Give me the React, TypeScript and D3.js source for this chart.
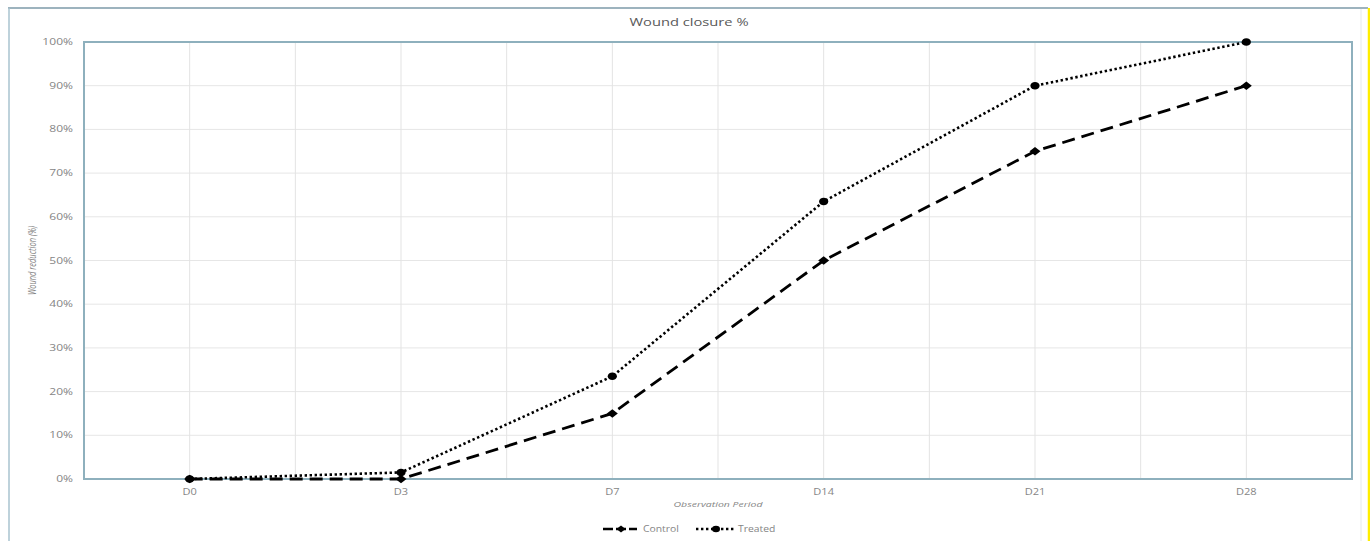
import React from "react";
import * as d3 from "d3";

const categories = ["D0", "D3", "D7", "D14", "D21", "D28"];
const controlValues = [0, 0, 15, 50, 75, 90];
const treatedValues = [0, 1.5, 23.5, 63.5, 90, 100];
const yTicks = [0, 10, 20, 30, 40, 50, 60, 70, 80, 90, 100];
const seriesNames = ["Control", "Treated"];

const W = 1370;
const H = 541;
const plot = { left: 84, top: 42, right: 1352, bottom: 479 };
const font = "'Open Sans', 'Liberation Sans', sans-serif";
const textColor = "#858585";

type TProps = {
  x: number;
  y: number;
  sx?: number;
  sy?: number;
  size: number;
  anchor?: "start" | "middle" | "end";
  italic?: boolean;
  fill?: string;
  rotate?: number;
  children: React.ReactNode;
};

function T({ x, y, sx = 1.35, sy = 1, size, anchor = "start", italic, fill = textColor, rotate = 0, children }: TProps) {
  return (
    <text
      transform={`translate(${x},${y}) rotate(${rotate}) scale(${sx},${sy})`}
      textAnchor={anchor}
      fontFamily={font}
      fontSize={size}
      fontStyle={italic ? "italic" : "normal"}
      fill={fill}
    >
      {children}
    </text>
  );
}

const diamondPath = (w: number, h: number) => `M0,${-h}L${w},0L0,${h}L${-w},0Z`;

export default function App() {
  const x = d3
    .scaleBand<string>()
    .domain(categories)
    .range([plot.left, plot.right])
    .padding(0);
  const y = d3.scaleLinear().domain([0, 100]).range([plot.bottom, plot.top]);
  const cx = (c: string) => (x(c) ?? 0) + x.bandwidth() / 2;

  const line = d3
    .line<number>()
    .x((_, i) => cx(categories[i]))
    .y((d) => y(d));

  const vGrid: number[] = [];
  categories.forEach((c) => {
    vGrid.push(x(c) ?? 0);
    vGrid.push(cx(c));
  });

  const diamond = diamondPath(5.5, 4.2);

  return (
    <svg
      width={W}
      height={H}
      style={{ position: "absolute", left: 0, top: 0, display: "block" }}
    >
      <rect x={0} y={0} width={W} height={H} fill="#ffffff" />
      {/* outer chart frame */}
      <line x1={8} y1={8} x2={1368} y2={8} stroke="#7d9aa8" strokeWidth={1.5} />
      <line x1={9} y1={8} x2={9} y2={H} stroke="#a9c3cf" strokeWidth={1.5} />
      <line x1={1361} y1={9} x2={1361} y2={H} stroke="#e4e9ec" strokeWidth={1} />
      <line x1={1369} y1={8} x2={1369} y2={H} stroke="#ffee00" strokeWidth={2.5} />

      {/* title */}
      <T x={689} y={26} size={11.5} sx={1.28} anchor="middle" fill="#595959">
        Wound closure %
      </T>

      {/* gridlines */}
      {yTicks.map((t) => (
        <line
          key={"h" + t}
          x1={plot.left}
          x2={plot.right}
          y1={y(t)}
          y2={y(t)}
          stroke="#e6e6e6"
          strokeWidth={1}
        />
      ))}
      {vGrid.map((gx, i) => (
        <line
          key={"v" + i}
          x1={gx}
          x2={gx}
          y1={plot.top}
          y2={plot.bottom}
          stroke="#e3e3e3"
          strokeWidth={1}
        />
      ))}

      {/* plot border */}
      <rect
        x={plot.left}
        y={plot.top}
        width={plot.right - plot.left}
        height={plot.bottom - plot.top}
        fill="none"
        stroke="#8eb0bd"
        strokeWidth={2}
      />

      {/* y tick labels */}
      {yTicks.map((t) => (
        <T key={"yl" + t} x={73} y={y(t) + 3} size={8.5} sx={1.42} anchor="end">
          {t + "%"}
        </T>
      ))}

      {/* x tick labels */}
      {categories.map((c) => (
        <T key={"xl" + c} x={cx(c)} y={495} size={8.5} sx={1.3} anchor="middle">
          {c}
        </T>
      ))}

      {/* axis titles */}
      <T x={(plot.left + plot.right) / 2} y={507} size={7.5} sx={1.4} anchor="middle" italic>
        Observation Period
      </T>
      <T x={36} y={(plot.top + plot.bottom) / 2} size={7.5} sx={1} sy={1.35} rotate={-90} anchor="middle" italic>
        Wound reduction (%)
      </T>

      {/* series */}
      <path
        d={line(controlValues) ?? ""}
        fill="none"
        stroke="#000"
        strokeWidth={2.8}
        strokeDasharray="13,7"
      />
      <path
        d={line(treatedValues) ?? ""}
        fill="none"
        stroke="#000"
        strokeWidth={2.6}
        strokeDasharray="2.4,2.6"
      />
      {controlValues.map((v, i) => (
        <path
          key={"cm" + i}
          d={diamond}
          transform={`translate(${cx(categories[i])},${y(v)})`}
          fill="#000"
        />
      ))}
      {treatedValues.map((v, i) => (
        <ellipse
          key={"tm" + i}
          cx={cx(categories[i])}
          cy={y(v)}
          rx={4.6}
          ry={3.8}
          fill="#000"
        />
      ))}

      {/* legend */}
      <g>
        <line x1={603} x2={637} y1={529} y2={529} stroke="#000" strokeWidth={2.6} strokeDasharray="10,3" />
        <path d={diamondPath(4.5, 3.4)} transform="translate(621,529)" fill="#000" />
        <T x={643} y={532} size={8.5} sx={1.22}>
          {seriesNames[0]}
        </T>
        <line x1={696} x2={734} y1={529} y2={529} stroke="#000" strokeWidth={2.6} strokeDasharray="2.4,2.6" />
        <ellipse cx={716} cy={529} rx={4} ry={3.3} fill="#000" />
        <T x={738} y={532} size={8.5} sx={1.22}>
          {seriesNames[1]}
        </T>
      </g>
    </svg>
  );
}
